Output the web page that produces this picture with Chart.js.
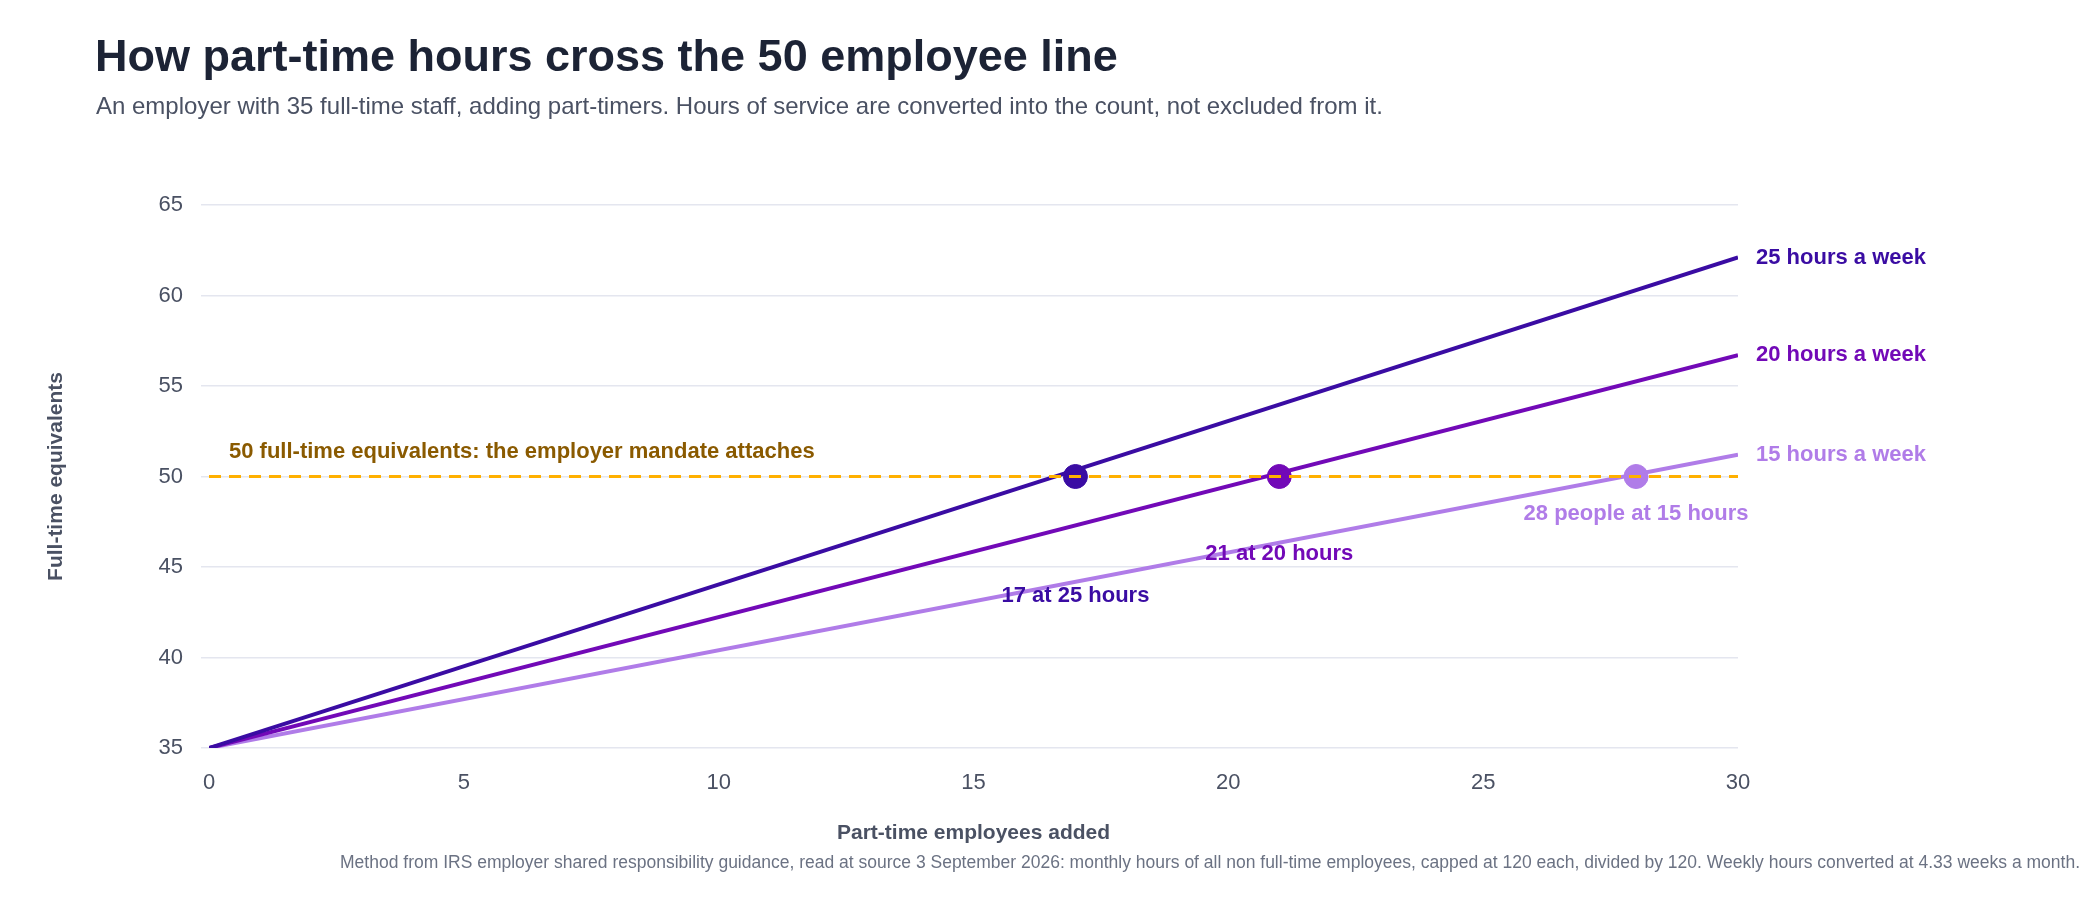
<!DOCTYPE html>
<html>
<head>
<meta charset="utf-8">
<script src="https://cdn.jsdelivr.net/npm/chart.js@4"></script>
<style>
  body { margin: 0; background: #fff; font-family: "Liberation Sans", Arial, sans-serif; }
  #wrap { position: relative; width: 2100px; height: 900px; }
  h1 { position: absolute; left: 95px; top: 30px; margin: 0; font-size: 45px; font-weight: bold; color: #1c2335; }
  .sub { position: absolute; left: 96px; top: 92px; font-size: 24px; color: #4a5163; }
  .foot { position: absolute; right: 20px; top: 852px; font-size: 17.5px; color: #6b7283; }
  canvas { position: absolute; left: 0; top: 0; }
</style>
</head>
<body>
<div id="wrap">
  <canvas id="chart" width="2100" height="900"></canvas>
  <h1>How part-time hours cross the 50 employee line</h1>
  <div class="sub">An employer with 35 full-time staff, adding part-timers. Hours of service are converted into the count, not excluded from it.</div>
  <div class="foot">Method from IRS employer shared responsibility guidance, read at source 3 September 2026: monthly hours of all non full-time employees, capped at 120 each, divided by 120. Weekly hours converted at 4.33 weeks a month.</div>
</div>
<script>
// Part-time employees added (line end points)
const employeesAdded = [0, 30];
const fte25 = [35, 62.1];
const fte20 = [35, 56.7];
const fte15 = [35, 51.2];
const seriesNames = ['25 hours a week', '20 hours a week', '15 hours a week'];
const seriesColors = ['#3a0ca3', '#7209b7', '#b07ce8'];

// Where each line crosses 50 FTE
const crossX = [17, 21, 28];
const crossY = [50, 50, 50];
const crossLabels = ['17 at 25 hours', '21 at 20 hours', '28 people at 15 hours'];
const crossLabelOffset = [119, 77, 37];

const threshold = 50;
const thresholdLabel = '50 full-time equivalents: the employer mandate attaches';

const xTicks = [0, 5, 10, 15, 20, 25, 30];
const yTicks = [35, 40, 45, 50, 55, 60, 65];

const toPoints = (xs, ys) => xs.map((x, i) => ({ x: x, y: ys[i] }));
const lineSets = [fte25, fte20, fte15].map((vals, i) => ({
    label: seriesNames[i],
    data: toPoints(employeesAdded, vals),
    showLine: true,
    borderColor: seriesColors[i],
    borderWidth: 4,
    pointRadius: 0
}));
const markerSets = crossX.map((x, i) => ({
    label: crossLabels[i],
    data: [{ x: x, y: crossY[i] }],
    backgroundColor: seriesColors[i],
    borderColor: seriesColors[i],
    pointRadius: 12
}));
const thresholdSet = {
    label: 'threshold',
    data: toPoints([0, 30], [threshold, threshold]),
    showLine: true,
    borderColor: '#ffb000',
    borderWidth: 3,
    borderDash: [12, 8],
    pointRadius: 0
};

// Text labels next to the lines
const labelPlugin = {
    id: 'labels',
    afterDatasetsDraw(chart) {
        const c = chart.ctx;
        const xs = chart.scales.x, ys = chart.scales.y;
        c.save();
        c.font = 'bold 22px "Liberation Sans", Arial, sans-serif';
        c.textBaseline = 'middle';
        c.textAlign = 'left';
        [fte25, fte20, fte15].forEach((vals, i) => {
            c.fillStyle = seriesColors[i];
            c.fillText(seriesNames[i], xs.getPixelForValue(employeesAdded[1]) + 18, ys.getPixelForValue(vals[1]));
        });
        c.textAlign = 'center';
        crossX.forEach((x, i) => {
            c.fillStyle = seriesColors[i];
            c.fillText(crossLabels[i], xs.getPixelForValue(x), ys.getPixelForValue(crossY[i]) + crossLabelOffset[i]);
        });
        c.textAlign = 'left';
        c.fillStyle = '#8a5a00';
        c.fillText(thresholdLabel, xs.getPixelForValue(0) + 20, ys.getPixelForValue(threshold) - 25);
        c.restore();
    }
};

new Chart(document.getElementById('chart'), {
    type: 'scatter',
    data: { datasets: [thresholdSet, ...lineSets, ...markerSets] },
    options: {
        responsive: false,
        animation: false,
        layout: { padding: { left: 40, right: 362, top: 205, bottom: 50 } },
        plugins: { legend: { display: false }, tooltip: { enabled: false } },
        scales: {
            x: {
                type: 'linear', min: 0, max: 30,
                afterBuildTicks: s => { s.ticks = xTicks.map(v => ({ value: v })); },
                afterFit: s => { s.height = 102; },
                grid: { display: false },
                border: { display: false },
                ticks: { font: { size: 22 }, color: '#4a5163', padding: 14 },
                title: { display: true, text: 'Part-time employees added', font: { size: 21, weight: 'bold' }, color: '#4a5163', padding: { top: 16 } }
            },
            y: {
                type: 'linear', min: 35, max: 65,
                afterBuildTicks: s => { s.ticks = yTicks.map(v => ({ value: v })); },
                afterFit: s => { s.width = 169; },
                grid: { color: '#e4e6ef', lineWidth: 1.5 },
                border: { display: false },
                ticks: { font: { size: 22 }, color: '#4a5163', padding: 18 },
                title: { display: true, text: 'Full-time equivalents', font: { size: 21, weight: 'bold' }, color: '#4a5163', padding: { bottom: 40 } }
            }
        }
    },
    plugins: [labelPlugin]
});
</script>
</body>
</html>
